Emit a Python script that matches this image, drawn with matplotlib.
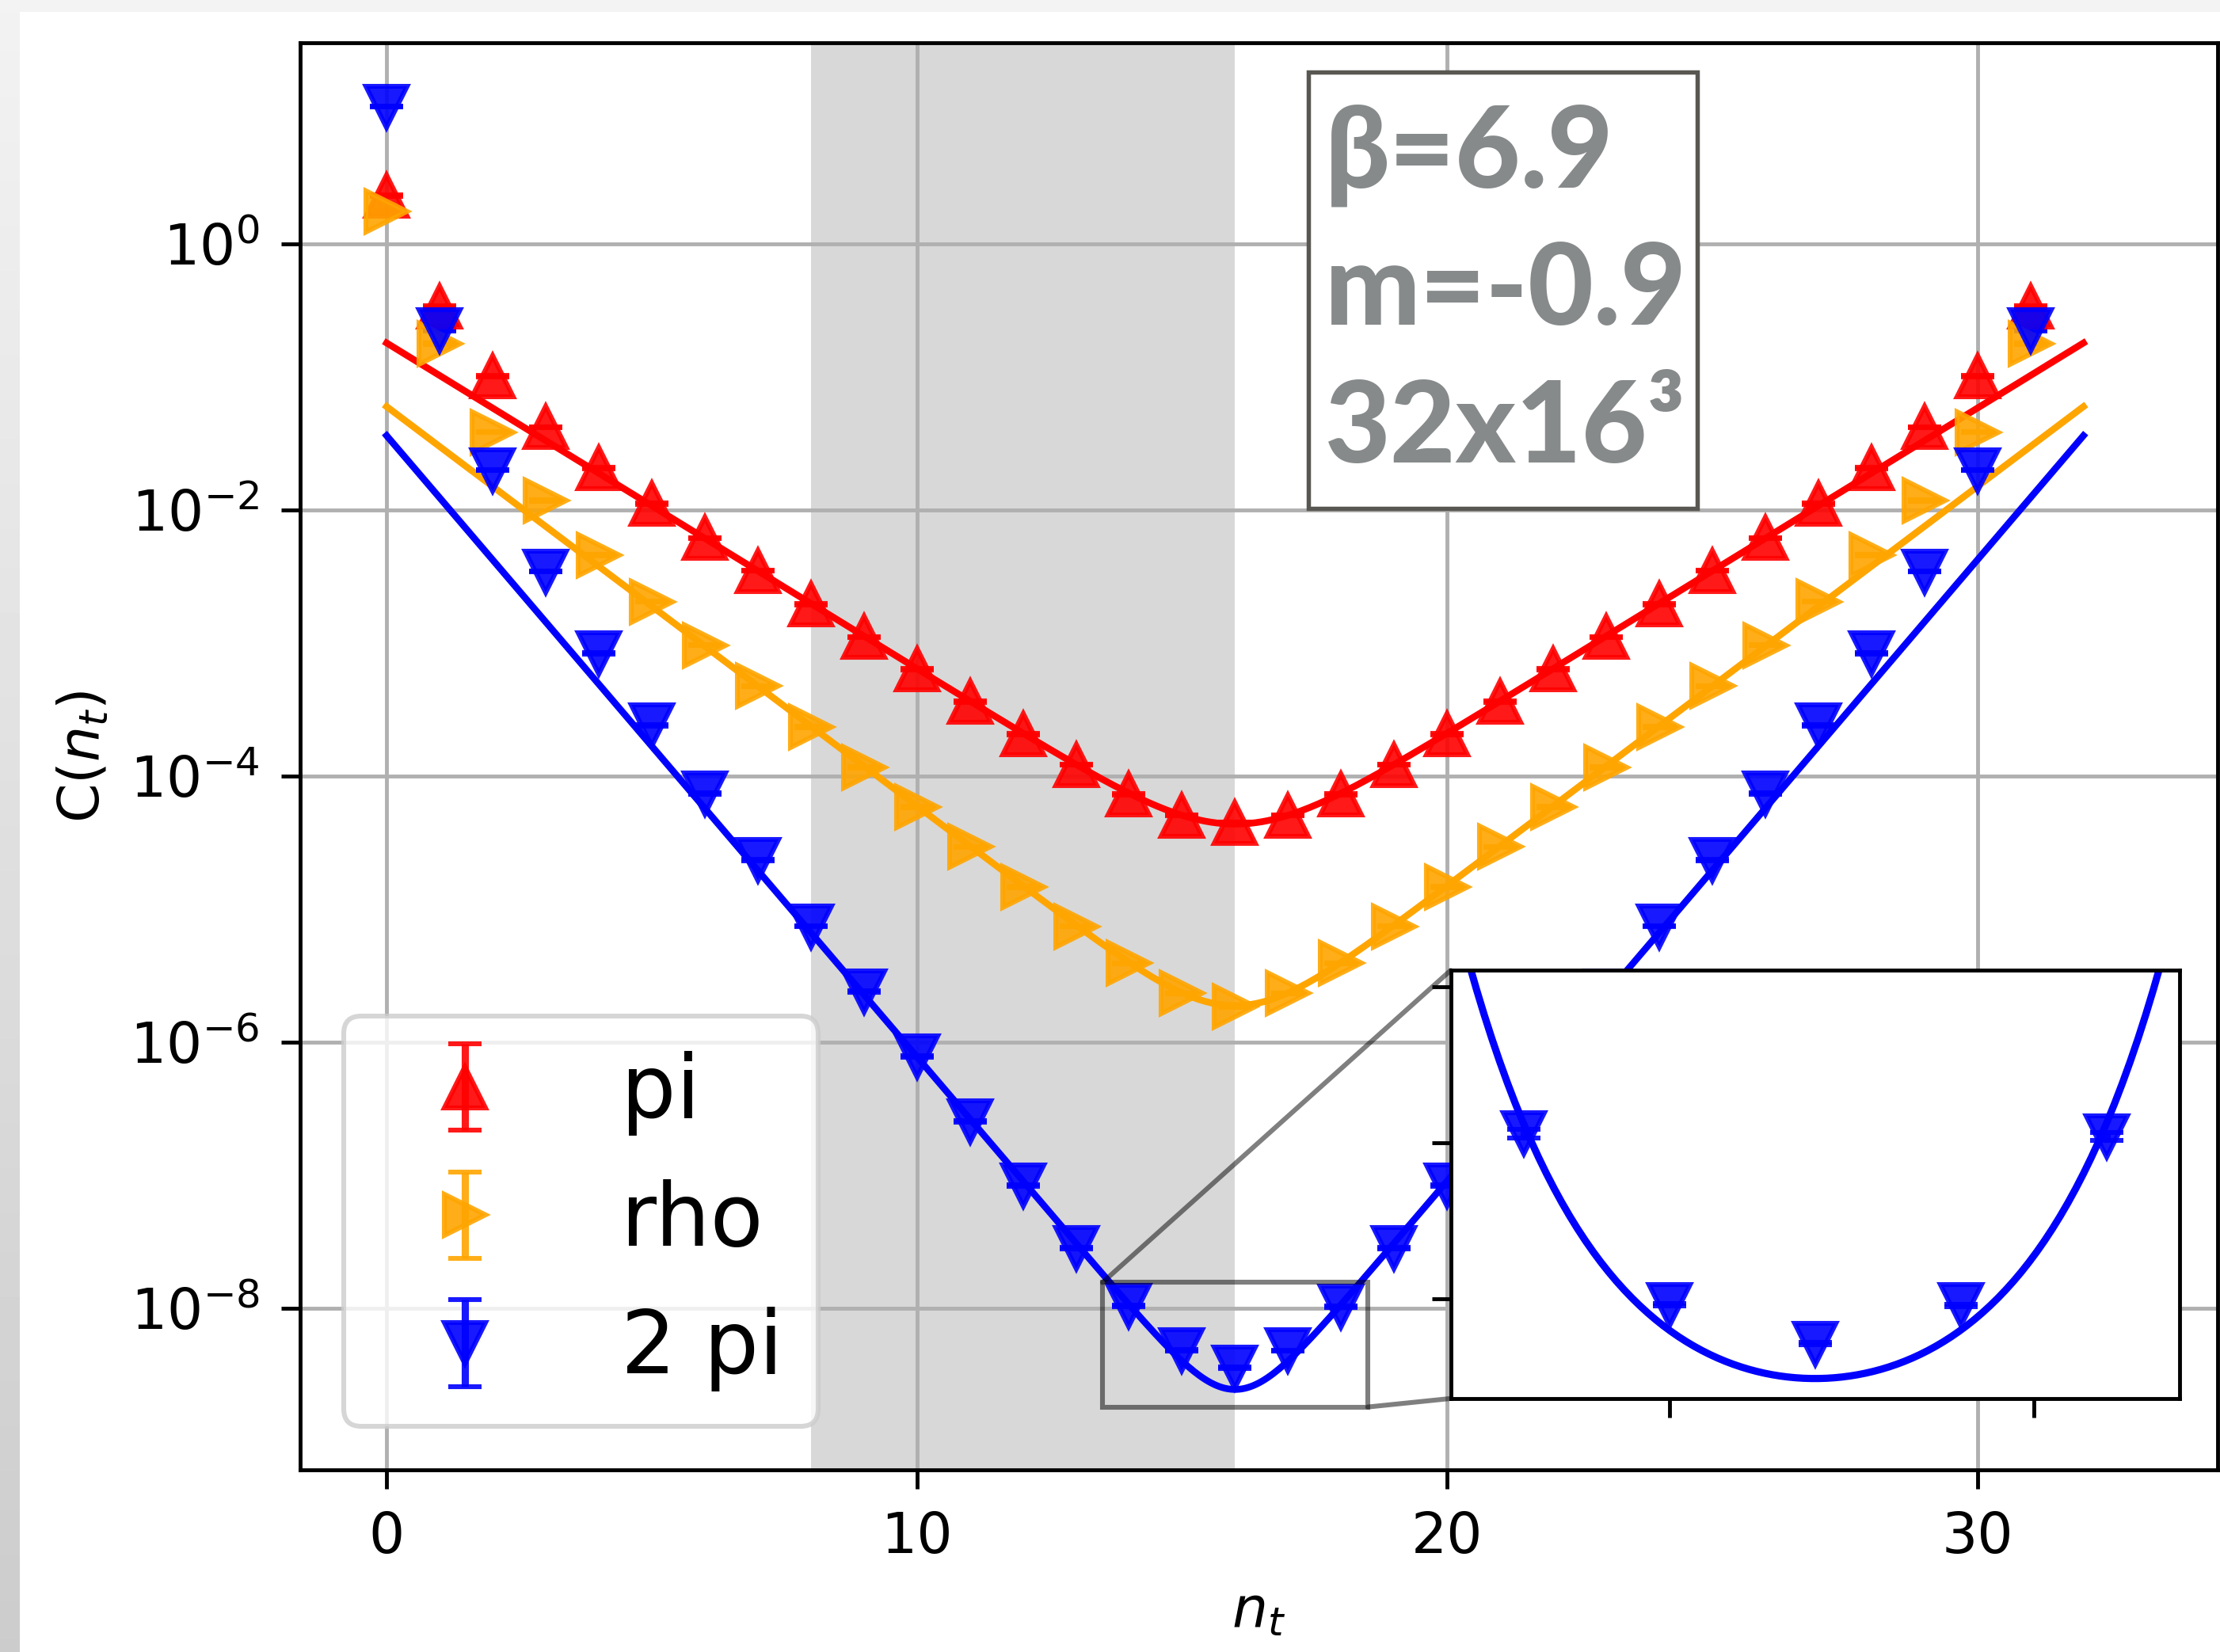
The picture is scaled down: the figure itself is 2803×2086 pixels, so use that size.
import numpy as np
import matplotlib
matplotlib.use('Agg')
import matplotlib.pyplot as plt
from matplotlib.ticker import NullLocator
from matplotlib.patches import Rectangle, ConnectionPatch

# time slices
nt = np.arange(32)
T = 32

# correlator values (one value per time slice)
pi_corr = [2.29, 0.336, 0.1005, 0.0417, 0.0206, 0.0111, 6.12e-3, 3.48e-3,
           1.945e-3, 1.104e-3, 6.31e-4, 3.61e-4, 2.06e-4, 1.208e-4, 7.26e-5, 5.04e-5,
           4.42e-5, 5.04e-5, 7.26e-5, 1.208e-4, 2.06e-4, 3.61e-4, 6.31e-4, 1.104e-3,
           1.945e-3, 3.48e-3, 6.12e-3, 0.0111, 0.0206, 0.0417, 0.1005, 0.336]
rho_corr = [1.75, 0.176, 0.0383, 0.01175, 4.54e-3, 2.04e-3, 9.59e-4, 4.71e-4,
            2.32e-4, 1.153e-4, 5.83e-5, 2.92e-5, 1.462e-5, 7.40e-6, 3.89e-6, 2.31e-6,
            1.84e-6, 2.31e-6, 3.89e-6, 7.40e-6, 1.462e-5, 2.92e-5, 5.83e-5, 1.153e-4,
            2.32e-4, 4.71e-4, 9.59e-4, 2.04e-3, 4.54e-3, 0.01175, 0.0383, 0.176]
twopi_corr = [10.7, 0.224, 0.0198, 3.43e-3, 8.34e-4, 2.40e-4, 7.33e-5, 2.32e-5,
              7.40e-6, 2.38e-6, 7.76e-7, 2.52e-7, 8.32e-8, 2.80e-8, 1.03e-8, 4.80e-9,
              3.56e-9, 4.79e-9, 1.02e-8, 2.80e-8, 8.32e-8, 2.52e-7, 7.76e-7, 2.38e-6,
              7.40e-6, 2.32e-5, 7.33e-5, 2.40e-4, 8.34e-4, 3.43e-3, 0.0198, 0.224]

# error bars (mostly hidden behind the markers)
pi_err = [0.02, 3e-3, 1e-3, 4e-4, 2e-4, 1.1e-4, 6e-5, 3.5e-5,
          2e-5, 1.1e-5, 6e-6, 3.6e-6, 2e-6, 1.2e-6, 7e-7, 5e-7,
          4.4e-7, 5e-7, 7e-7, 1.2e-6, 2e-6, 3.6e-6, 6e-6, 1.1e-5,
          2e-5, 3.5e-5, 6e-5, 1.1e-4, 2e-4, 4e-4, 1e-3, 3e-3]
rho_err = [0.02, 2e-3, 4e-4, 1.2e-4, 5e-5, 2e-5, 1e-5, 5e-6,
           2.5e-6, 1.2e-6, 6e-7, 3e-7, 1.5e-7, 8e-8, 4e-8, 2.5e-8,
           2e-8, 2.5e-8, 4e-8, 8e-8, 1.5e-7, 3e-7, 6e-7, 1.2e-6,
           2.5e-6, 5e-6, 1e-5, 2e-5, 5e-5, 1.2e-4, 4e-4, 2e-3]
twopi_err = [0.1, 3e-3, 2e-4, 4e-5, 1e-5, 3e-6, 9e-7, 3e-7,
             9e-8, 3e-8, 1e-8, 3.5e-9, 1.2e-9, 4e-10, 1.4e-10, 4e-11,
             3e-11, 4e-11, 1.3e-10, 4e-10, 1.2e-9, 3.5e-9, 1e-8, 3e-8,
             9e-8, 3e-7, 9e-7, 3e-6, 1e-5, 4e-5, 2e-4, 3e-3]

# cosh fit parameters: C(t) = A (exp(-m t) + exp(-m (T - t)))
fit_amp = {'pi': 0.179, 'rho': 0.0595, '2 pi': 0.036}
fit_mass = {'pi': 0.5637, 'rho': 0.6913, '2 pi': 1.075}

series = [('pi', pi_corr, pi_err, 'red', '^'),
          ('rho', rho_corr, rho_err, 'orange', '>'),
          ('2 pi', twopi_corr, twopi_err, 'blue', 'v')]

# run parameters shown in the box
info_lines = ['β=6.9', 'm=-0.9', '32x16³']

fit_window = (8, 16)
zoom_x = (13.5, 18.5)
zoom_y = (1.8e-9, 1.553e-8)


def cosh_fit(t, amp, mass):
    return amp * (np.exp(-mass * t) + np.exp(-mass * (T - t)))


plt.rcParams['font.size'] = 11.7
plt.rcParams['xtick.major.size'] = 3.9
plt.rcParams['ytick.major.size'] = 3.9
plt.rcParams['xtick.major.pad'] = 4.5
plt.rcParams['ytick.major.pad'] = 4.5

W, H, DPI = 2803, 2086, 438
fig = plt.figure(figsize=(W / DPI, H / DPI), dpi=DPI)
fig.patch.set_facecolor('white')

# grey screenshot border on top / left
bg = fig.add_axes([0, 0, 1, 1], zorder=-10)
bg.set_xlim(0, W)
bg.set_ylim(H, 0)
bg.axis('off')
grad = np.linspace(0.95, 0.80, 256).reshape(-1, 1)
bg.imshow(grad, cmap='gray', vmin=0, vmax=1, extent=[0, 25, H, 0], aspect='auto')
bg.add_patch(Rectangle((0, 0), W, 15, color='#f3f3f3', lw=0))

ax = fig.add_axes([379 / W, 1 - 1856 / H, (2800 - 379) / W, (1856 - 54) / H])
ax.set_yscale('log')

ax.axvspan(*fit_window, color='gray', alpha=0.3, lw=0)

t_fit = np.linspace(0, T, 600)
for name, corr, err, col, mk in series:
    ax.errorbar(nt, corr, yerr=err, fmt=mk, color=col, ms=8.4, capsize=3.5,
                alpha=0.9, label=name, zorder=3)
    ax.plot(t_fit, cosh_fit(t_fit, fit_amp[name], fit_mass[name]), color=col, lw=1.4, zorder=2.5)

ax.set_xlim(-1.63, 34.53)
ax.set_ylim(10 ** -9.217, 10 ** 1.509)
ax.set_xticks([0, 10, 20, 30])
ax.yaxis.set_minor_locator(NullLocator())
ax.grid(True)
ax.set_xlabel('$n_t$')
ax.set_ylabel('C($n_t$)')

ax.legend(loc='lower left', fontsize=18)

# info box
ax.add_patch(Rectangle((0.5258, 0.6737), 0.2028, 0.3058, transform=ax.transAxes,
                       fc='white', ec='#595751', lw=0.9, zorder=6))
for line, yb in zip(info_lines, [0.8986, 0.8024, 0.7059]):
    ax.text(0.5345, yb, line, transform=ax.transAxes, ha='left', va='baseline',
            fontsize=23.5, fontweight='black', color='#878a8b',
            family=['Lato', 'DejaVu Sans'], zorder=7)

# zoomed inset around the 2 pi minimum (linear y)
axins = ax.inset_axes([0.6, 0.05, 0.38, 0.3])
axins.errorbar(nt, twopi_corr, yerr=twopi_err, fmt='v', color='blue', ms=8.4, capsize=3.5, alpha=0.9)
axins.plot(t_fit, cosh_fit(t_fit, fit_amp['2 pi'], fit_mass['2 pi']), color='blue', lw=1.5)
axins.set_xlim(*zoom_x)
axins.set_ylim(*zoom_y)
axins.set_xticks([15, 17.5])
axins.set_yticks([5e-9, 1e-8, 1.5e-8])
axins.set_xticklabels([])
axins.set_yticklabels([])

# zoom box and connector lines
ax.add_patch(Rectangle((zoom_x[0], zoom_y[0]), zoom_x[1] - zoom_x[0], zoom_y[1] - zoom_y[0],
                       fill=False, ec='black', alpha=0.5, lw=1.0, zorder=4.99))
for xy_box, xy_ins in [((zoom_x[0], zoom_y[1]), (0, 1)), ((zoom_x[1], zoom_y[0]), (0, 0))]:
    con = ConnectionPatch(xyA=xy_box, coordsA=ax.transData, xyB=xy_ins, coordsB=axins.transAxes,
                          color='black', alpha=0.5, lw=1.0, zorder=4.99)
    ax.add_artist(con)

fig.savefig('out.png', dpi=DPI)
